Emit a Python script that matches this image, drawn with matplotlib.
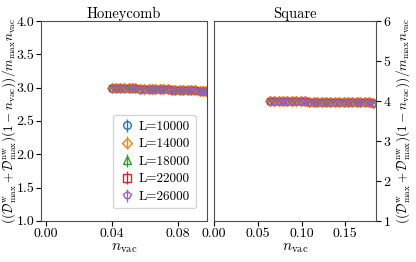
import matplotlib
matplotlib.use("Agg")
import matplotlib.pyplot as plt

plt.rcParams['font.family'] = 'serif'
plt.rcParams['font.serif'] = ['cmr10', 'DejaVu Serif']
plt.rcParams['mathtext.fontset'] = 'cm'
plt.rcParams['axes.formatter.use_mathtext'] = True
plt.rcParams['axes.unicode_minus'] = False

sizes = ["L=10000", "L=14000", "L=18000", "L=22000", "L=26000"]
markers = ['o', 'D', '^', 's', 'p']
colors = ['tab:blue', 'tab:orange', 'tab:green', 'tab:red', 'tab:purple']

# honeycomb lattice
hc_x = [0.040, 0.042, 0.045, 0.047, 0.050, 0.052, 0.054, 0.057, 0.059, 0.062,
        0.064, 0.066, 0.069, 0.071, 0.074, 0.076, 0.078, 0.081, 0.083, 0.086,
        0.088, 0.090, 0.093, 0.095, 0.097]
hc_y = [3.000, 2.998, 2.996, 2.994, 2.992, 2.990, 2.988, 2.986, 2.984, 2.982,
        2.980, 2.978, 2.976, 2.974, 2.972, 2.970, 2.968, 2.966, 2.964, 2.962,
        2.960, 2.958, 2.956, 2.954, 2.952]
hc_err = [0.004] * 25

# square lattice
sq_x = [0.064, 0.069, 0.074, 0.079, 0.084, 0.089, 0.094, 0.099, 0.104, 0.109,
        0.114, 0.118, 0.123, 0.128, 0.133, 0.138, 0.143, 0.148, 0.153, 0.158,
        0.163, 0.167, 0.172, 0.177, 0.182]
sq_y = [4.000, 3.998, 3.997, 3.995, 3.993, 3.992, 3.990, 3.988, 3.987, 3.985,
        3.983, 3.982, 3.980, 3.978, 3.977, 3.975, 3.973, 3.972, 3.970, 3.968,
        3.967, 3.965, 3.963, 3.962, 3.960]
sq_err = [0.004] * 25

ylab = r'$((\mathcal{D}^{\rm w}_{\rm max}+\mathcal{D}^{\rm nw}_{\rm max})(1-n_{\rm vac}))/m_{\rm max}n_{\rm vac}$'

fig = plt.figure(figsize=(4.16, 2.62), dpi=100)
ax1 = fig.add_axes([0.099, 0.157, 0.399, 0.763])
ax2 = fig.add_axes([0.514, 0.157, 0.390, 0.763])

for lab, m, c in zip(sizes, markers, colors):
    ax1.errorbar(hc_x, hc_y, yerr=hc_err, marker=m, color=c, mfc='none',
                 ms=5, mew=1, ls='none', elinewidth=1, label=lab)
    ax2.errorbar(sq_x, sq_y, yerr=sq_err, marker=m, color=c, mfc='none',
                 ms=5, mew=1, ls='none', elinewidth=1, label=lab)

ax1.set_xlim(-0.003, 0.0975)
ax1.set_ylim(1.0, 4.0)
ax1.set_xticks([0.00, 0.04, 0.08])
ax1.set_xticklabels(['0.00', '0.04', '0.08'])
ax1.set_yticks([1.0, 1.5, 2.0, 2.5, 3.0, 3.5, 4.0])
ax1.set_yticklabels(['1.0', '1.5', '2.0', '2.5', '3.0', '3.5', '4.0'])
ax1.set_title('Honeycomb', fontsize=10.5, pad=2)
ax1.set_xlabel(r'$n_{\rm vac}$', fontsize=11, labelpad=1)
ax1.set_ylabel(ylab, fontsize=9.5)
ax1.yaxis.set_label_coords(-0.142, 0.5)
ax1.legend(loc='lower right', fontsize=9.5, handletextpad=0.3,
           borderpad=0.4, labelspacing=0.4, handlelength=1.3,
           markerscale=1.1, bbox_to_anchor=(0.97, 0.03))

ax2.set_xlim(0.0, 0.185)
ax2.set_ylim(1, 6)
ax2.set_xticks([0.00, 0.05, 0.10, 0.15])
ax2.set_xticklabels(['0.00', '0.05', '0.10', '0.15'])
ax2.set_yticks([1, 2, 3, 4, 5, 6])
ax2.yaxis.tick_right()
ax2.yaxis.set_label_position('right')
ax2.set_title('Square', fontsize=10.5, pad=2)
ax2.set_xlabel(r'$n_{\rm vac}$', fontsize=11, labelpad=1)
ax2.set_ylabel(ylab, fontsize=9.5)
ax2.yaxis.set_label_coords(1.11, 0.5)

for ax in (ax1, ax2):
    ax.tick_params(labelsize=10, length=3.5, pad=1.5)
    for s in ax.spines.values():
        s.set_color('0.3')

fig.savefig('out.png', dpi=100)
